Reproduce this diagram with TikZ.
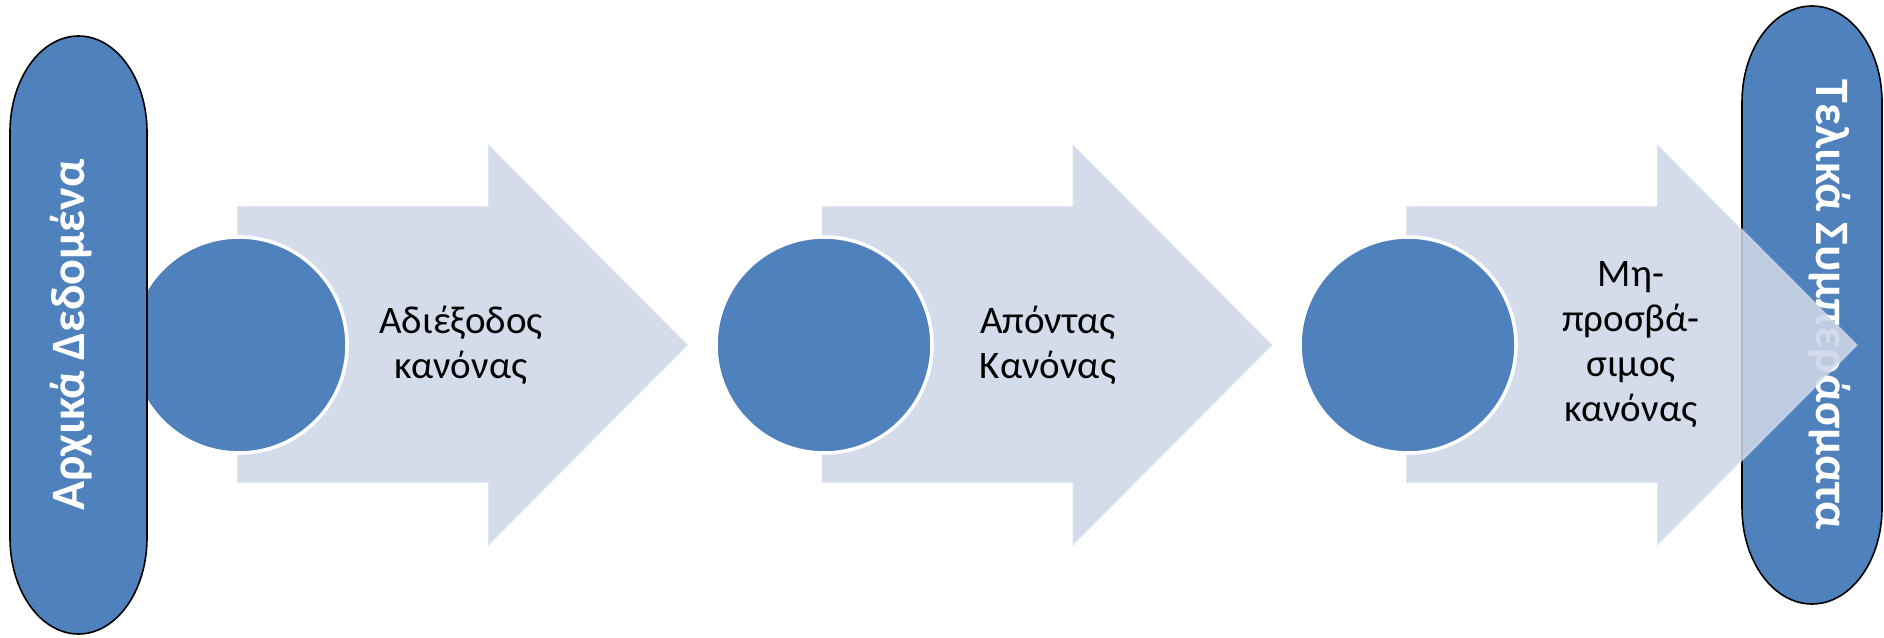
\documentclass[tikz,border=0pt]{standalone}
\usepackage{fontspec}
\setmainfont{Carlito}
\definecolor{pillblue}{RGB}{79,129,189}
\definecolor{arrowc}{RGB}{206,215,232}
\tikzset{
  x=1pt, y=-1pt,
  pill/.style={fill=pillblue, draw=black, line width=1.6pt},
  chevron/.style={fill=arrowc, fill opacity=0.88, draw=white, draw opacity=0.25, line width=2pt},
  disc/.style={circle, fill=pillblue, draw=white, line width=3.5pt, minimum size=216pt, inner sep=0pt},
  steptext/.style={align=center, text=black, font=\fontsize{39}{45}\selectfont},
  pilltext/.style={text=white, font=\fontsize{48}{54}\selectfont\bfseries, inner sep=0pt}
}
\begin{document}
\begin{tikzpicture}
\useasboundingbox (0,0) rectangle (1884,637);
% right pill (under arrow 3)
\draw[pill] (1742,102) -- (1742,508) arc[start angle=180, end angle=0, x radius=70, y radius=96]
  -- (1882,102) arc[start angle=0, end angle=-180, x radius=70, y radius=96] -- cycle;
\node[pilltext, rotate=-90, anchor=base] (rtext) at (1816,305) {Τελικά Συμπεράσματα};
% arrows
\foreach \L/\n in {237/a1, 821.5/a2, 1406/a3}{
  \draw[chevron] (\L,206) -- (\L+251,206) -- (\L+251,144) -- (\L+451,345)
     -- (\L+251,546) -- (\L+251,483) -- (\L,483) -- cycle;
}
% circles
\node[disc] (c1) at (239,345) {};
\node[disc] (c2) at (824,345) {};
\node[disc] (c3) at (1408,345) {};
% left pill (over circle 1)
\draw[pill] (10,132) -- (10,538) arc[start angle=180, end angle=0, x radius=68.5, y radius=96]
  -- (147,132) arc[start angle=0, end angle=-180, x radius=68.5, y radius=96] -- cycle;
\node[pilltext, rotate=90, anchor=base] (ltext) at (84,335) {Αρχικά Δεδομένα};
% step texts
\node[steptext] (t1) at (461,345) {Αδιέξοδος\\κανόνας};
\node[steptext] (t2) at (1048,345) {Απόντας\\Κανόνας};
\node[steptext] (t3) at (1631,345) {Μη-\\προσβά-\\σιμος\\κανόνας};
\end{tikzpicture}
\end{document}
